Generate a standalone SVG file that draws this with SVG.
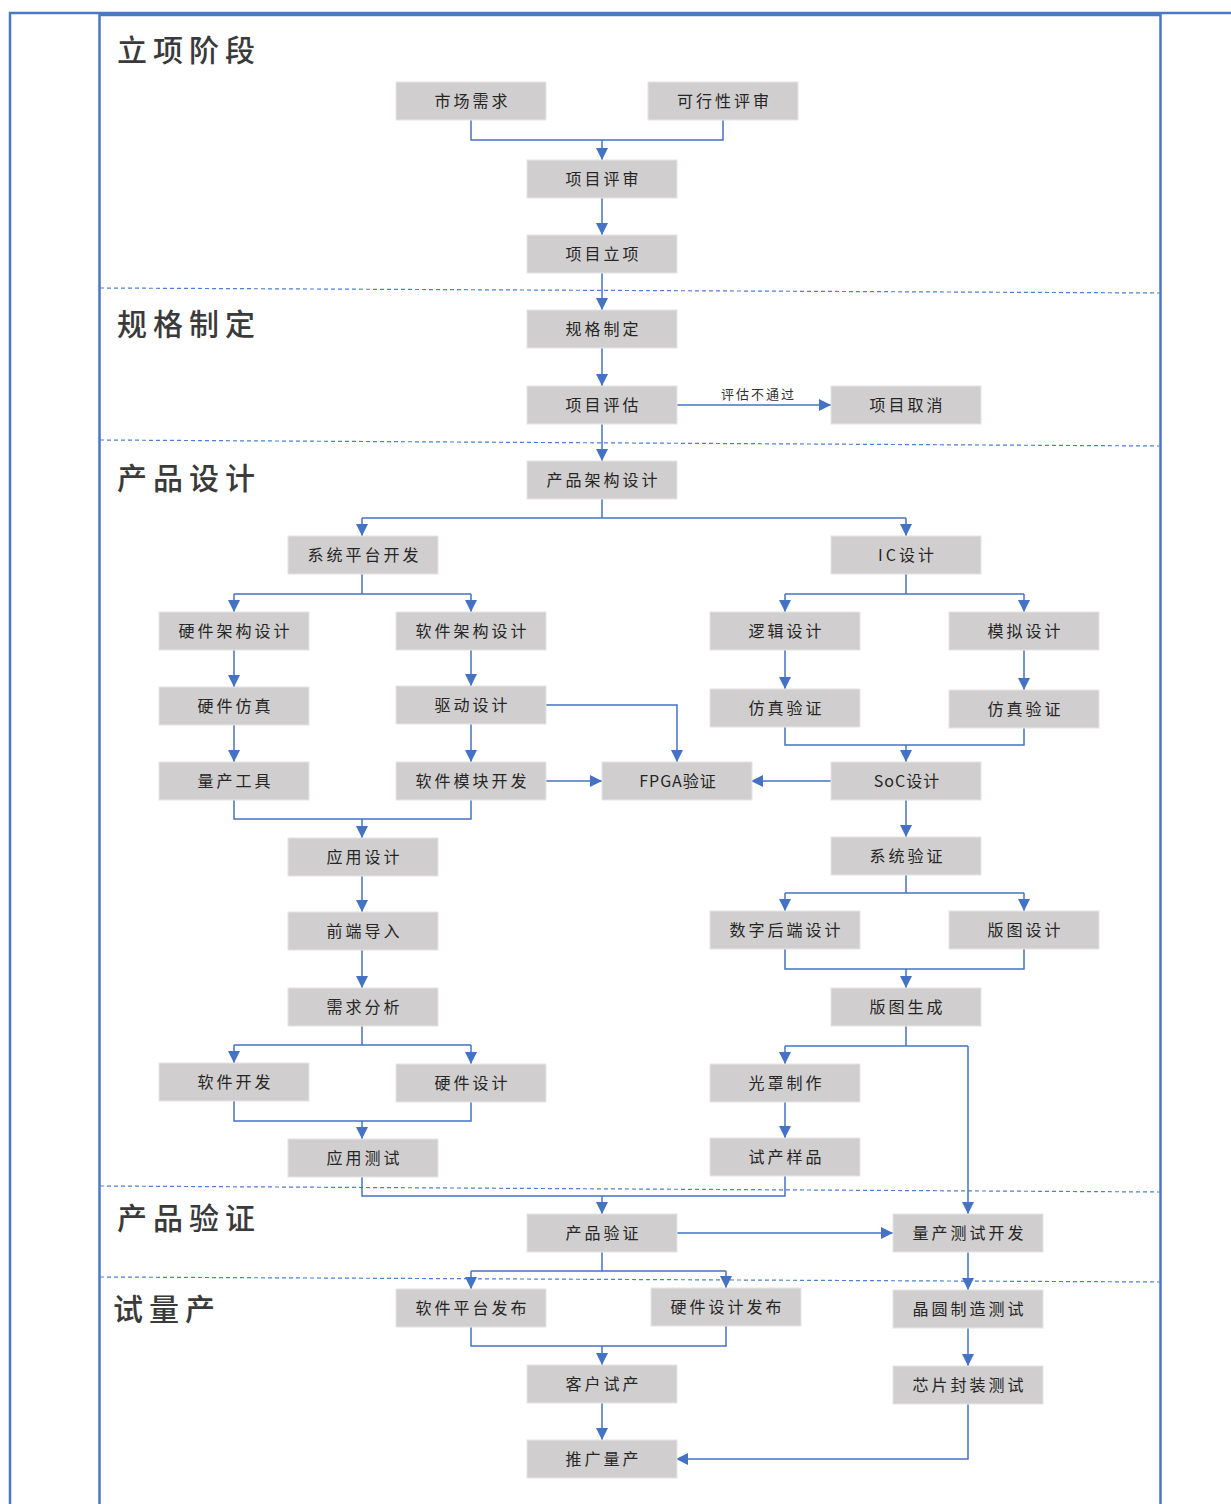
<svg xmlns="http://www.w3.org/2000/svg" width="1231" height="1504" viewBox="0 0 1231 1504">
<style>
.n rect{fill:#d0cece;stroke:#e6e4e4;stroke-width:1}
.n text{font-family:"Noto Sans CJK SC","Liberation Serif",serif;font-size:16px;fill:#262626;text-anchor:middle;letter-spacing:3px}
.t{font-family:"Noto Sans CJK SC","Liberation Serif",serif;font-size:30px;fill:#3a3a3a;font-weight:500;letter-spacing:6px}
.c path{fill:none;stroke:#4472c4;stroke-width:1.5}
.a{marker-end:url(#ah)}
.d{fill:none;stroke:#4f7fd0;stroke-width:1.2;stroke-dasharray:4 3}
.b{fill:none;stroke:#4a78c4;stroke-width:2.5}
.lbl{font-family:"Noto Sans CJK SC","Liberation Serif",serif;font-size:13px;fill:#333;letter-spacing:2px}
</style>
<defs>
<marker id="ah" viewBox="0 0 10 10" refX="10" refY="5" markerWidth="12" markerHeight="13" markerUnits="userSpaceOnUse" orient="auto">
<path d="M0 0 L10 5 L0 10 z" fill="#4472c4"/>
</marker>
</defs>
<rect width="1231" height="1504" fill="#fff"/>
<g id="borders">
<path class="b" d="M10 1510 V13 H1240"/>
<path class="b" d="M99.5 1510 V15 H1160.5 V1510"/>
</g>
<g id="dividers">
<line class="d" x1="100" y1="288" x2="1160" y2="293"/>
<line class="d" x1="100" y1="440" x2="1160" y2="446"/>
<line class="d" x1="100" y1="1186" x2="1160" y2="1192"/>
<line class="d" x1="100" y1="1277" x2="1160" y2="1282"/>
</g>
<g id="titles">
<text class="t" x="117" y="61">立项阶段</text>
<text class="t" x="117" y="335">规格制定</text>
<text class="t" x="117" y="489">产品设计</text>
<text class="t" x="117" y="1229">产品验证</text>
<text class="t" x="113" y="1320">试量产</text>
</g>
<g id="connectors" class="c">
<path d="M471 120 V140 H723 V120"/>
<path class="a" d="M602 140 V160"/>
<path class="a" d="M602 198 V235"/>
<path class="a" d="M602 273 V310"/>
<path class="a" d="M602 348 V386"/>
<path class="a" d="M676 405 H831"/>
<path class="a" d="M602 424 V461"/>
<path d="M602 499 V518 H362 M602 518 H906"/>
<path class="a" d="M362 518 V536"/>
<path class="a" d="M906 518 V536"/>
<path d="M362 574 V594 H234 M362 594 H471"/>
<path class="a" d="M234 594 V612"/>
<path class="a" d="M471 594 V612"/>
<path d="M906 574 V594 H785 M906 594 H1024"/>
<path class="a" d="M785 594 V612"/>
<path class="a" d="M1024 594 V612"/>
<path class="a" d="M234 650 V687"/>
<path class="a" d="M234 725 V762"/>
<path class="a" d="M471 650 V686"/>
<path class="a" d="M471 724 V762"/>
<path class="a" d="M546 705 H677 V762"/>
<path class="a" d="M546 781 H602"/>
<path class="a" d="M831 781 H751"/>
<path class="a" d="M785 650 V689"/>
<path class="a" d="M1024 650 V690"/>
<path d="M785 727 V745 H1024 V728"/>
<path class="a" d="M906 745 V762"/>
<path d="M234 800 V819 H471 V800"/>
<path class="a" d="M362 819 V838"/>
<path class="a" d="M362 876 V912"/>
<path class="a" d="M362 950 V988"/>
<path class="a" d="M906 800 V837"/>
<path d="M906 875 V893 H785 M906 893 H1024"/>
<path class="a" d="M785 893 V911"/>
<path class="a" d="M1024 893 V911"/>
<path d="M785 949 V969 H1024 V949"/>
<path class="a" d="M906 969 V988"/>
<path d="M362 1026 V1045 H234 M362 1045 H471"/>
<path class="a" d="M234 1045 V1063"/>
<path class="a" d="M471 1045 V1064"/>
<path d="M906 1026 V1046 H785 M906 1046 H968"/>
<path class="a" d="M785 1046 V1064"/>
<path class="a" d="M968 1046 V1214"/>
<path class="a" d="M785 1102 V1138"/>
<path d="M234 1101 V1121 H471 V1102"/>
<path class="a" d="M362 1121 V1139"/>
<path d="M362 1177 V1196 H785 V1176"/>
<path class="a" d="M602 1196 V1214"/>
<path class="a" d="M676 1233 H893"/>
<path d="M602 1252 V1271 H471 M602 1271 H726"/>
<path class="a" d="M471 1271 V1289"/>
<path class="a" d="M726 1271 V1288"/>
<path class="a" d="M968 1252 V1290"/>
<path d="M471 1327 V1346 H726 V1326"/>
<path class="a" d="M602 1346 V1365"/>
<path class="a" d="M602 1403 V1440"/>
<path class="a" d="M968 1328 V1366"/>
<path class="a" d="M968 1404 V1459 H676"/>
<text class="lbl" x="721" y="399">评估不通过</text>
</g>
<g id="n1" class="n"><rect x="396" y="82" width="150" height="38"/><text x="472.5" y="107">市场需求</text></g>
<g id="n2" class="n"><rect x="648" y="82" width="150" height="38"/><text x="724.5" y="107">可行性评审</text></g>
<g id="n3" class="n"><rect x="527" y="160" width="150" height="38"/><text x="603.5" y="185">项目评审</text></g>
<g id="n4" class="n"><rect x="527" y="235" width="150" height="38"/><text x="603.5" y="260">项目立项</text></g>
<g id="n5" class="n"><rect x="527" y="310" width="150" height="38"/><text x="603.5" y="335">规格制定</text></g>
<g id="n6" class="n"><rect x="527" y="386" width="150" height="38"/><text x="603.5" y="411">项目评估</text></g>
<g id="n7" class="n"><rect x="831" y="386" width="150" height="38"/><text x="907.5" y="411">项目取消</text></g>
<g id="n8" class="n"><rect x="527" y="461" width="150" height="38"/><text x="603.5" y="486">产品架构设计</text></g>
<g id="n9" class="n"><rect x="288" y="536" width="150" height="38"/><text x="364.5" y="561">系统平台开发</text></g>
<g id="n10" class="n"><rect x="831" y="536" width="150" height="38"/><text x="907.5" y="561">IC设计</text></g>
<g id="n11" class="n"><rect x="159" y="612" width="150" height="38"/><text x="235.5" y="637">硬件架构设计</text></g>
<g id="n12" class="n"><rect x="396" y="612" width="150" height="38"/><text x="472.5" y="637">软件架构设计</text></g>
<g id="n13" class="n"><rect x="710" y="612" width="150" height="38"/><text x="786.5" y="637">逻辑设计</text></g>
<g id="n14" class="n"><rect x="949" y="612" width="150" height="38"/><text x="1025.5" y="637">模拟设计</text></g>
<g id="n15" class="n"><rect x="159" y="687" width="150" height="38"/><text x="235.5" y="712">硬件仿真</text></g>
<g id="n16" class="n"><rect x="396" y="686" width="150" height="38"/><text x="472.5" y="711">驱动设计</text></g>
<g id="n17" class="n"><rect x="710" y="689" width="150" height="38"/><text x="786.5" y="714">仿真验证</text></g>
<g id="n18" class="n"><rect x="949" y="690" width="150" height="38"/><text x="1025.5" y="715">仿真验证</text></g>
<g id="n19" class="n"><rect x="159" y="762" width="150" height="38"/><text x="235.5" y="787">量产工具</text></g>
<g id="n20" class="n"><rect x="396" y="762" width="150" height="38"/><text x="472.5" y="787">软件模块开发</text></g>
<g id="n21" class="n"><rect x="602" y="762" width="150" height="38"/><text x="678" y="787" style="letter-spacing:1px">FPGA验证</text></g>
<g id="n22" class="n"><rect x="831" y="762" width="150" height="38"/><text x="907" y="787" style="letter-spacing:1px">SoC设计</text></g>
<g id="n23" class="n"><rect x="288" y="838" width="150" height="38"/><text x="364.5" y="863">应用设计</text></g>
<g id="n24" class="n"><rect x="831" y="837" width="150" height="38"/><text x="907.5" y="862">系统验证</text></g>
<g id="n25" class="n"><rect x="288" y="912" width="150" height="38"/><text x="364.5" y="937">前端导入</text></g>
<g id="n26" class="n"><rect x="710" y="911" width="150" height="38"/><text x="786.5" y="936">数字后端设计</text></g>
<g id="n27" class="n"><rect x="949" y="911" width="150" height="38"/><text x="1025.5" y="936">版图设计</text></g>
<g id="n28" class="n"><rect x="288" y="988" width="150" height="38"/><text x="364.5" y="1013">需求分析</text></g>
<g id="n29" class="n"><rect x="831" y="988" width="150" height="38"/><text x="907.5" y="1013">版图生成</text></g>
<g id="n30" class="n"><rect x="159" y="1063" width="150" height="38"/><text x="235.5" y="1088">软件开发</text></g>
<g id="n31" class="n"><rect x="396" y="1064" width="150" height="38"/><text x="472.5" y="1089">硬件设计</text></g>
<g id="n32" class="n"><rect x="710" y="1064" width="150" height="38"/><text x="786.5" y="1089">光罩制作</text></g>
<g id="n33" class="n"><rect x="288" y="1139" width="150" height="38"/><text x="364.5" y="1164">应用测试</text></g>
<g id="n34" class="n"><rect x="710" y="1138" width="150" height="38"/><text x="786.5" y="1163">试产样品</text></g>
<g id="n35" class="n"><rect x="527" y="1214" width="150" height="38"/><text x="603.5" y="1239">产品验证</text></g>
<g id="n36" class="n"><rect x="893" y="1214" width="150" height="38"/><text x="969.5" y="1239">量产测试开发</text></g>
<g id="n37" class="n"><rect x="396" y="1289" width="150" height="38"/><text x="472.5" y="1314">软件平台发布</text></g>
<g id="n38" class="n"><rect x="651" y="1288" width="150" height="38"/><text x="727.5" y="1313">硬件设计发布</text></g>
<g id="n39" class="n"><rect x="893" y="1290" width="150" height="38"/><text x="969.5" y="1315">晶圆制造测试</text></g>
<g id="n40" class="n"><rect x="527" y="1365" width="150" height="38"/><text x="603.5" y="1390">客户试产</text></g>
<g id="n41" class="n"><rect x="893" y="1366" width="150" height="38"/><text x="969.5" y="1391">芯片封装测试</text></g>
<g id="n42" class="n"><rect x="527" y="1440" width="150" height="38"/><text x="603.5" y="1465">推广量产</text></g>
</svg>
